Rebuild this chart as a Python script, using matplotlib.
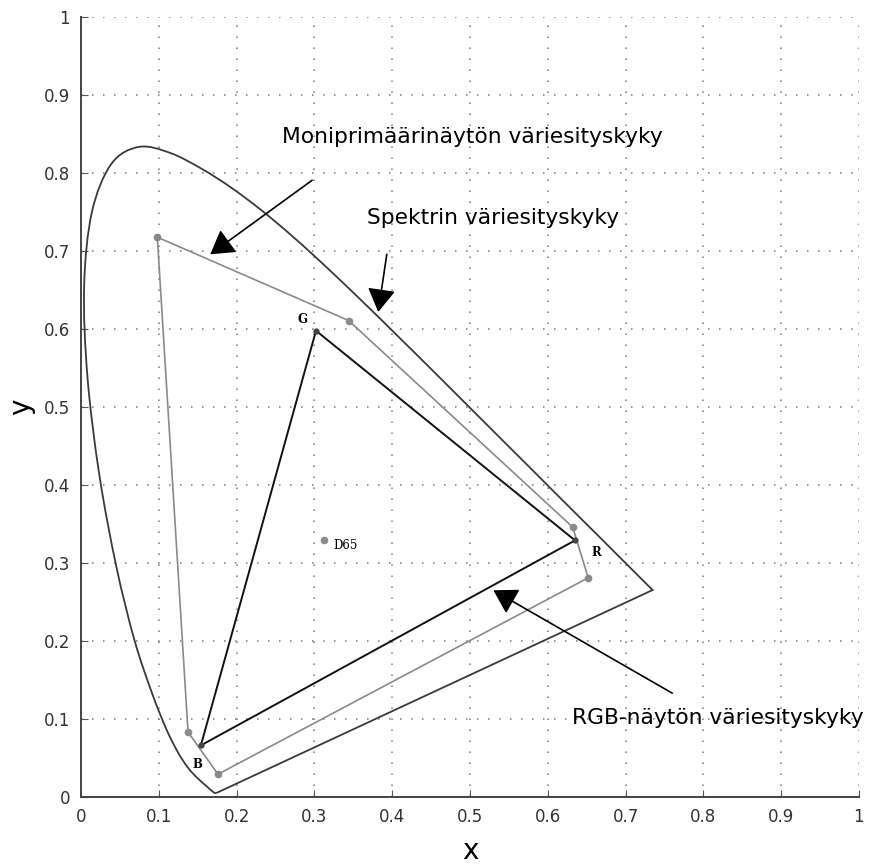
import matplotlib
matplotlib.use('Agg')
import matplotlib.pyplot as plt
import numpy as np
from matplotlib.path import Path
from matplotlib.patches import PathPatch

# CIE 1931 spectral locus, 380..700 nm in 5 nm steps
locus_x = [0.1741, 0.1740, 0.1738, 0.1736, 0.1733, 0.1730, 0.1726, 0.1721,
           0.1714, 0.1703, 0.1689, 0.1669, 0.1644, 0.1611, 0.1566, 0.1510,
           0.1440, 0.1355, 0.1241, 0.1096, 0.0913, 0.0687, 0.0454, 0.0235,
           0.0082, 0.0039, 0.0139, 0.0389, 0.0743, 0.1142, 0.1547, 0.1929,
           0.2296, 0.2658, 0.3016, 0.3373, 0.3731, 0.4087, 0.4441, 0.4788,
           0.5125, 0.5448, 0.5752, 0.6029, 0.6270, 0.6482, 0.6658, 0.6801,
           0.6915, 0.7006, 0.7079, 0.7140, 0.7190, 0.7230, 0.7260, 0.7283,
           0.7300, 0.7311, 0.7320, 0.7327, 0.7334, 0.7340, 0.7344, 0.7346,
           0.7347]
locus_y = [0.0050, 0.0050, 0.0049, 0.0049, 0.0048, 0.0048, 0.0048, 0.0048,
           0.0051, 0.0058, 0.0069, 0.0086, 0.0109, 0.0138, 0.0177, 0.0227,
           0.0297, 0.0399, 0.0578, 0.0868, 0.1327, 0.2007, 0.2950, 0.4127,
           0.5384, 0.6548, 0.7502, 0.8120, 0.8338, 0.8262, 0.8059, 0.7816,
           0.7543, 0.7243, 0.6923, 0.6589, 0.6245, 0.5896, 0.5547, 0.5202,
           0.4866, 0.4544, 0.4242, 0.3965, 0.3725, 0.3514, 0.3340, 0.3197,
           0.3083, 0.2993, 0.2920, 0.2859, 0.2809, 0.2770, 0.2740, 0.2717,
           0.2700, 0.2689, 0.2680, 0.2673, 0.2666, 0.2660, 0.2656, 0.2654,
           0.2653]

# multiprimary display gamut
multi_x = [0.098, 0.344, 0.632, 0.652, 0.176, 0.1375]
multi_y = [0.718, 0.611, 0.346, 0.281, 0.029, 0.083]

# RGB display primaries
rgb_names = ['R', 'G', 'B']
rgb_x = [0.635, 0.302, 0.154]
rgb_y = [0.329, 0.598, 0.066]

d65 = (0.3127, 0.329)

ticks = np.round(np.arange(0, 1.01, 0.1), 1)
tick_labels = ['0'] + ['%.1f' % t for t in ticks[1:-1]] + ['1']


def smooth_path(xs, ys):
    # bezier segments through the points (catmull-rom handles)
    p = np.column_stack([xs, ys])
    verts = [p[0]]
    codes = [Path.MOVETO]
    n = len(p)
    for i in range(n - 1):
        p0 = p[max(i - 1, 0)]
        p1 = p[i]
        p2 = p[i + 1]
        p3 = p[min(i + 2, n - 1)]
        verts += [p1 + (p2 - p0) / 6, p2 - (p3 - p1) / 6, p2]
        codes += [Path.CURVE4] * 3
    verts.append(p[0])
    codes.append(Path.LINETO)
    return Path(verts, codes)


fig = plt.figure(figsize=(8.72, 8.68), dpi=100)
ax = fig.add_axes([0.093, 0.082, 0.892, 0.898])

ax.add_patch(PathPatch(smooth_path(locus_x, locus_y), fill=False,
                       edgecolor='#3a3a3a', lw=1.3, zorder=3))

ax.plot(multi_x + [multi_x[0]], multi_y + [multi_y[0]], color='#8a8a8a', lw=1.2,
        zorder=3)
ax.plot(multi_x, multi_y, 'o', color='#8a8a8a', ms=4.5, zorder=4)

ax.plot(rgb_x + [rgb_x[0]], rgb_y + [rgb_y[0]], color='#111111', lw=1.4, zorder=3)
ax.plot(rgb_x, rgb_y, 'o', color='#444444', ms=3.5, zorder=4)

ax.plot(d65[0], d65[1], 'o', color='#8a8a8a', ms=4.5, zorder=4)
ax.text(d65[0] + 0.011, d65[1] - 0.006, 'D65', family='DejaVu Serif', fontsize=8.5,
        va='center', ha='left')

ax.text(0.285, 0.613, 'G', family='DejaVu Serif', fontsize=8.5, fontweight='bold',
        ha='center', va='center')
ax.text(0.662, 0.314, 'R', family='DejaVu Serif', fontsize=8.5, fontweight='bold',
        ha='center', va='center')
ax.text(0.149, 0.041, 'B', family='DejaVu Serif', fontsize=8.5, fontweight='bold',
        ha='center', va='center')

arrow = dict(arrowstyle='-|>,head_length=0.4,head_width=0.24', color='black',
             lw=1.2, mutation_scale=36, shrinkA=0, shrinkB=0)
ax.text(0.258, 0.846, 'Moniprimäärinäytön väriesityskyky', fontsize=15.7,
        ha='left', va='center')
ax.annotate('', xy=(0.166, 0.696), xytext=(0.297, 0.791), arrowprops=arrow)

ax.text(0.368, 0.742, 'Spektrin väriesityskyky', fontsize=15.7,
        ha='left', va='center')
ax.annotate('', xy=(0.382, 0.622), xytext=(0.393, 0.696), arrowprops=arrow)

ax.text(0.631, 0.101, 'RGB-näytön väriesityskyky', fontsize=15.7,
        ha='left', va='center', clip_on=False)
ax.annotate('', xy=(0.530, 0.265), xytext=(0.760, 0.133), arrowprops=arrow)

ax.set_xlim(0, 1)
ax.set_ylim(0, 1)
ax.set_xticks(ticks)
ax.set_yticks(ticks)
ax.set_xticklabels(tick_labels)
ax.set_yticklabels(tick_labels)
ax.tick_params(direction='in', length=5, labelsize=12, labelcolor='#333333',
               color='#555555', pad=8)
ax.grid(True, linestyle=(0, (1, 6.2)), color='#7a7a7a', lw=1.1)
for s in ['top', 'right']:
    ax.spines[s].set_visible(False)
for s in ['left', 'bottom']:
    ax.spines[s].set_color('#444444')
    ax.spines[s].set_linewidth(1.4)

ax.set_xlabel('x', fontsize=20, labelpad=8)
ax.set_ylabel('y', fontsize=20, labelpad=6)

fig.savefig('out.png', dpi=100)
